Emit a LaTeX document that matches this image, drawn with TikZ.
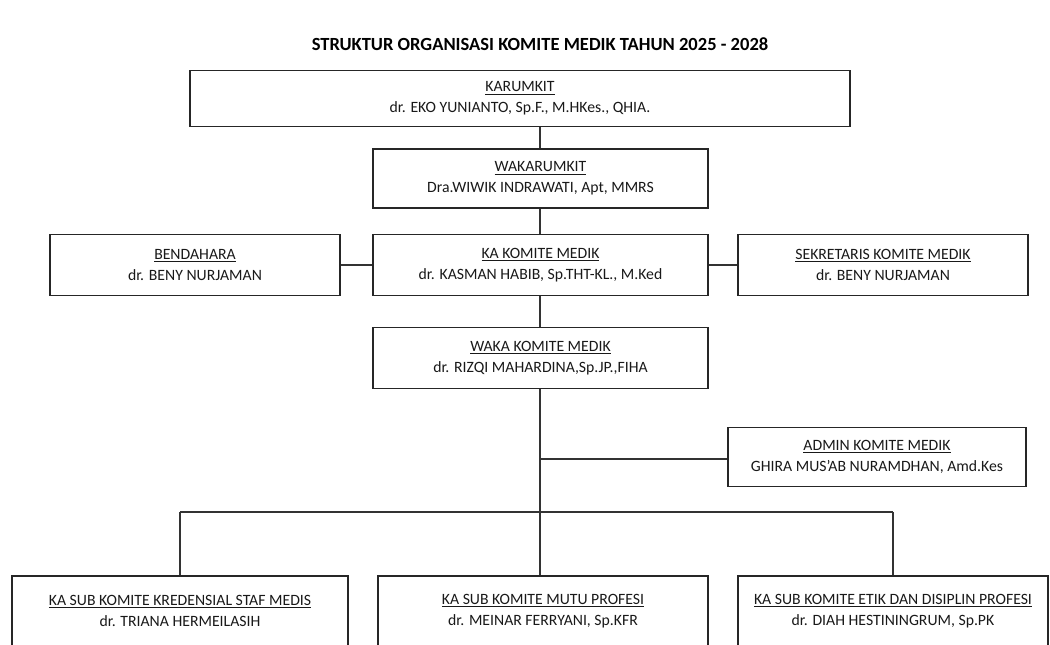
\documentclass[tikz,border=0pt]{standalone}
\usepackage{fontspec}
\setmainfont{Carlito}
\begin{document}
\begin{tikzpicture}[x=0.75pt,y=-0.75pt,
  box/.style={draw=black!85,line width=1.3pt,fill=white,align=center,inner sep=0pt,
    text=black!90,font=\fontsize{11.8}{15.5}\selectfont},
  size/.style 2 args={minimum width={#1*0.75pt},minimum height={#2*0.75pt}},
  link/.style={draw=black!80,line width=1.2pt},
  heading/.style={font=\bfseries\fontsize{13.9}{16}\selectfont}]
\useasboundingbox (0,0) rectangle (1050,644);
\clip (0,0) rectangle (1050,644);
\fill[white] (0,0) rectangle (1050,644);

\node[heading] (title) at (540,44) {STRUKTUR ORGANISASI KOMITE MEDIK TAHUN 2025 - 2028};

\node[box,size={660}{56}] (karu) at (520,98.5)
  {\underline{KARUMKIT}\\dr. EKO YUNIANTO, Sp.F., M.HKes., QHIA.};
\node[box,size={335}{59}] (waka) at (540.5,178.5)
  {\underline{WAKARUMKIT}\\Dra.WIWIK INDRAWATI, Apt, MMRS};

\node[box,size={290}{61}] (bend) at (195,265)
  {\underline{BENDAHARA}\\dr. BENY NURJAMAN};
\node[box,size={335}{61}] (ketua) at (540.5,265)
  {\underline{KA KOMITE MEDIK}\\dr. KASMAN HABIB, Sp.THT-KL., M.Ked};
\node[box,size={290}{61}] (sekr) at (883,265)
  {\underline{SEKRETARIS KOMITE MEDIK}\\dr. BENY NURJAMAN};

\node[box,size={335}{61}] (wakil) at (540.5,358)
  {\underline{WAKA KOMITE MEDIK}\\dr. RIZQI MAHARDINA,Sp.JP.,FIHA};

\node[box,size={298}{59}] (admin) at (877,457)
  {\underline{ADMIN KOMITE MEDIK}\\GHIRA MUS'AB NURAMDHAN, Amd.Kes};

\node[box,size={336}{70}] (sub1) at (180,611)
  {\underline{KA SUB KOMITE KREDENSIAL STAF MEDIS}\\dr. TRIANA HERMEILASIH};
\node[box,size={330}{70}] (sub2) at (543,611)
  {\underline{KA SUB KOMITE MUTU PROFESI}\\dr. MEINAR FERRYANI, Sp.KFR};
\node[box,size={310}{70}] (sub3) at (893,611)
  {\underline{KA SUB KOMITE ETIK DAN DISIPLIN PROFESI}\\dr. DIAH HESTININGRUM, Sp.PK};

% junctions of the connector tree
\coordinate (trunk) at (540,512);
\coordinate (adminjoin) at (540,459);
\coordinate (barL) at (180,512);
\coordinate (barR) at (893,512);

\draw[link] (waka.north -| trunk) -- (karu.south -| trunk);
\draw[link] (ketua.north -| trunk) -- (waka.south -| trunk);
\draw[link] (bend.east) -- (ketua.west);
\draw[link] (ketua.east) -- (sekr.west);
\draw[link] (wakil.north -| trunk) -- (ketua.south -| trunk);
\draw[link] (wakil.south -| trunk) -- (trunk);
\draw[link] (adminjoin) -- (adminjoin -| admin.west);
\draw[link] (barL) -- (barR);
\draw[link] (barL) -- (sub1.north -| barL);
\draw[link] (trunk) -- (sub2.north -| trunk);
\draw[link] (barR) -- (sub3.north -| barR);
\end{tikzpicture}
\end{document}
